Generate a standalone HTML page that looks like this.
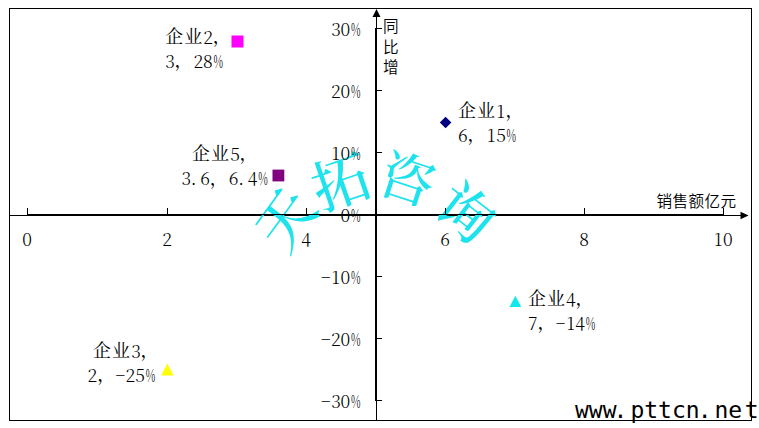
<!DOCTYPE html>
<html lang="zh-CN"><head><meta charset="utf-8"><title>销售额与同比增长散点图</title>
<style>html,body{margin:0;padding:0;background:#fff;width:759px;height:428px;overflow:hidden}svg{display:block}</style>
</head><body>
<svg width="759" height="428" viewBox="0 0 759 428"><rect x="10" y="215" width="733" height="1" fill="#000"/>
<rect x="376" y="15" width="1" height="405" fill="#000"/>
<g><text x="285" y="241.0" text-anchor="middle" font-family="'Noto Serif CJK SC', serif" font-size="58" font-weight="500" fill="#1FE3EC" transform="rotate(-54 285 219)">天</text><text x="340.5" y="203.2" text-anchor="middle" font-family="'Noto Serif CJK SC', serif" font-size="57" font-weight="500" fill="#1FE3EC" transform="rotate(-19 340.5 181.5)">拓</text><text x="407.5" y="199.4" text-anchor="middle" font-family="'Noto Serif CJK SC', serif" font-size="55" font-weight="500" fill="#1FE3EC" transform="rotate(18 407.5 178.5)">咨</text><text x="466" y="233.7" text-anchor="middle" font-family="'Noto Serif CJK SC', serif" font-size="57" font-weight="500" fill="#1FE3EC" transform="rotate(38 466 212)">询</text></g>
<rect x="9.5" y="8.5" width="742" height="412" fill="none" stroke="#000" stroke-width="1"/>
<rect x="27" y="214" width="697" height="1" fill="#000"/>
<path d="M748.6,215.5 L740.5,211.8 L740.5,219.2 Z" fill="#000"/>
<rect x="375" y="28" width="1" height="373" fill="#000"/>
<path d="M376.5,9 L372.5,17 L380.5,17 Z" fill="#000"/>
<rect x="27" y="208" width="1" height="6" fill="#000"/>
<rect x="167" y="208" width="1" height="6" fill="#000"/>
<rect x="306" y="208" width="1" height="6" fill="#000"/>
<rect x="445" y="208" width="1" height="6" fill="#000"/>
<rect x="584" y="208" width="1" height="6" fill="#000"/>
<rect x="723" y="208" width="1" height="6" fill="#000"/>
<rect x="376" y="28" width="6" height="1" fill="#000"/>
<rect x="376" y="90" width="6" height="1" fill="#000"/>
<rect x="376" y="152" width="6" height="1" fill="#000"/>
<rect x="376" y="214" width="6" height="1" fill="#000"/>
<rect x="376" y="276" width="6" height="1" fill="#000"/>
<rect x="376" y="338" width="6" height="1" fill="#000"/>
<rect x="376" y="400" width="6" height="1" fill="#000"/>
<text font-family="'Noto Serif CJK SC', serif" font-size="17.60" font-weight="300" fill="#000"><tspan x="331.23" y="35.80">3</tspan><tspan x="340.58" y="35.80">0</tspan><tspan x="350.93" y="35.80" textLength="9.55" lengthAdjust="spacingAndGlyphs">%</tspan></text>
<text font-family="'Noto Serif CJK SC', serif" font-size="17.60" font-weight="300" fill="#000"><tspan x="330.90" y="97.80">2</tspan><tspan x="340.58" y="97.80">0</tspan><tspan x="350.93" y="97.80" textLength="9.55" lengthAdjust="spacingAndGlyphs">%</tspan></text>
<text font-family="'Noto Serif CJK SC', serif" font-size="17.60" font-weight="300" fill="#000"><tspan x="331.50" y="159.80">1</tspan><tspan x="340.58" y="159.80">0</tspan><tspan x="350.93" y="159.80" textLength="9.55" lengthAdjust="spacingAndGlyphs">%</tspan></text>
<text font-family="'Noto Serif CJK SC', serif" font-size="17.60" font-weight="300" fill="#000"><tspan x="340.58" y="221.80">0</tspan><tspan x="350.93" y="221.80" textLength="9.55" lengthAdjust="spacingAndGlyphs">%</tspan></text>
<text font-family="'Noto Serif CJK SC', serif" font-size="17.60" font-weight="300" fill="#000"><tspan x="320.19" y="282.20" textLength="11.11" lengthAdjust="spacingAndGlyphs">-</tspan><tspan x="331.50" y="283.80">1</tspan><tspan x="340.58" y="283.80">0</tspan><tspan x="350.93" y="283.80" textLength="9.55" lengthAdjust="spacingAndGlyphs">%</tspan></text>
<text font-family="'Noto Serif CJK SC', serif" font-size="17.60" font-weight="300" fill="#000"><tspan x="320.19" y="344.20" textLength="11.11" lengthAdjust="spacingAndGlyphs">-</tspan><tspan x="330.90" y="345.80">2</tspan><tspan x="340.58" y="345.80">0</tspan><tspan x="350.93" y="345.80" textLength="9.55" lengthAdjust="spacingAndGlyphs">%</tspan></text>
<text font-family="'Noto Serif CJK SC', serif" font-size="17.60" font-weight="300" fill="#000"><tspan x="320.19" y="406.20" textLength="11.11" lengthAdjust="spacingAndGlyphs">-</tspan><tspan x="331.23" y="407.80">3</tspan><tspan x="340.58" y="407.80">0</tspan><tspan x="350.93" y="407.80" textLength="9.55" lengthAdjust="spacingAndGlyphs">%</tspan></text>
<text font-family="'Noto Serif CJK SC', serif" font-size="17.60" font-weight="300" fill="#000"><tspan x="22.33" y="245.50">0</tspan></text>
<text font-family="'Noto Serif CJK SC', serif" font-size="17.60" font-weight="300" fill="#000"><tspan x="162.15" y="245.50">2</tspan></text>
<text font-family="'Noto Serif CJK SC', serif" font-size="17.60" font-weight="300" fill="#000"><tspan x="301.22" y="245.50">4</tspan></text>
<text font-family="'Noto Serif CJK SC', serif" font-size="17.60" font-weight="300" fill="#000"><tspan x="440.24" y="245.50">6</tspan></text>
<text font-family="'Noto Serif CJK SC', serif" font-size="17.60" font-weight="300" fill="#000"><tspan x="579.29" y="245.50">8</tspan></text>
<text font-family="'Noto Serif CJK SC', serif" font-size="17.60" font-weight="300" fill="#000"><tspan x="714.00" y="245.50">1</tspan><tspan x="723.08" y="245.50">0</tspan></text>
<text font-family="'Noto Serif CJK SC', serif" font-size="17.60" font-weight="300" fill="#000"><tspan x="656.60" y="206.80" font-family="'Noto Sans CJK SC', sans-serif" font-size="15.6" font-weight="350">销</tspan><tspan x="672.60" y="206.80" font-family="'Noto Sans CJK SC', sans-serif" font-size="15.6" font-weight="350">售</tspan><tspan x="688.60" y="206.80" font-family="'Noto Sans CJK SC', sans-serif" font-size="15.6" font-weight="350">额</tspan><tspan x="704.60" y="206.80" font-family="'Noto Sans CJK SC', sans-serif" font-size="15.6" font-weight="350">亿</tspan><tspan x="720.60" y="206.80" font-family="'Noto Sans CJK SC', sans-serif" font-size="15.6" font-weight="350">元</tspan></text>
<text font-family="'Noto Serif CJK SC', serif" font-size="17.60" font-weight="300" fill="#000"><tspan x="383.00" y="32.20" font-family="'Noto Sans CJK SC', sans-serif" font-size="15.6" font-weight="350">同</tspan></text>
<text font-family="'Noto Serif CJK SC', serif" font-size="17.60" font-weight="300" fill="#000"><tspan x="383.00" y="52.50" font-family="'Noto Sans CJK SC', sans-serif" font-size="15.6" font-weight="350">比</tspan></text>
<text font-family="'Noto Serif CJK SC', serif" font-size="17.60" font-weight="300" fill="#000"><tspan x="383.00" y="72.80" font-family="'Noto Sans CJK SC', sans-serif" font-size="15.6" font-weight="350">增</tspan></text>
<path d="M445.6,116.7 L451.4,122.45 L445.6,128.2 L439.8,122.45 Z" fill="#000080"/>
<rect x="231.5" y="35.5" width="12" height="12" fill="#FF00FF"/>
<path d="M167.4,363.4 L173.6,375.5 L161.2,375.5 Z" fill="#FFFF00"/>
<path d="M515.4,295.8 L521.3,307 L509.5,307 Z" fill="#10E8EC"/>
<rect x="272.5" y="169.6" width="11.8" height="11.8" fill="#800080"/>
<text font-family="'Noto Serif CJK SC', serif" font-size="17.60" font-weight="300" fill="#000"><tspan x="457.90" y="117.00" font-family="'Noto Serif CJK SC', serif" font-size="18.0" font-weight="400">企</tspan><tspan x="476.90" y="117.00" font-family="'Noto Serif CJK SC', serif" font-size="18.0" font-weight="400">业</tspan><tspan x="496.50" y="117.60">1</tspan><tspan x="505.50" y="117.00" font-family="'Noto Serif CJK SC', serif" font-size="18.0" font-weight="400">，</tspan></text>
<text font-family="'Noto Serif CJK SC', serif" font-size="17.60" font-weight="300" fill="#000"><tspan x="457.99" y="141.60">6</tspan><tspan x="467.50" y="141.00" font-family="'Noto Serif CJK SC', serif" font-size="18.0" font-weight="400">，</tspan><tspan x="487.00" y="141.60">1</tspan><tspan x="496.17" y="141.60">5</tspan><tspan x="506.43" y="141.60" textLength="9.55" lengthAdjust="spacingAndGlyphs">%</tspan></text>
<text font-family="'Noto Serif CJK SC', serif" font-size="17.60" font-weight="300" fill="#000"><tspan x="165.20" y="43.40" font-family="'Noto Serif CJK SC', serif" font-size="18.0" font-weight="400">企</tspan><tspan x="184.20" y="43.40" font-family="'Noto Serif CJK SC', serif" font-size="18.0" font-weight="400">业</tspan><tspan x="203.20" y="44.00">2</tspan><tspan x="212.80" y="43.40" font-family="'Noto Serif CJK SC', serif" font-size="18.0" font-weight="400">，</tspan></text>
<text font-family="'Noto Serif CJK SC', serif" font-size="17.60" font-weight="300" fill="#000"><tspan x="165.23" y="67.70">3</tspan><tspan x="174.50" y="67.10" font-family="'Noto Serif CJK SC', serif" font-size="18.0" font-weight="400">，</tspan><tspan x="193.40" y="67.70">2</tspan><tspan x="203.04" y="67.70">8</tspan><tspan x="213.43" y="67.70" textLength="9.55" lengthAdjust="spacingAndGlyphs">%</tspan></text>
<text font-family="'Noto Serif CJK SC', serif" font-size="17.60" font-weight="300" fill="#000"><tspan x="92.90" y="357.30" font-family="'Noto Serif CJK SC', serif" font-size="18.0" font-weight="400">企</tspan><tspan x="111.90" y="357.30" font-family="'Noto Serif CJK SC', serif" font-size="18.0" font-weight="400">业</tspan><tspan x="131.23" y="357.90">3</tspan><tspan x="140.50" y="357.30" font-family="'Noto Serif CJK SC', serif" font-size="18.0" font-weight="400">，</tspan></text>
<text font-family="'Noto Serif CJK SC', serif" font-size="17.60" font-weight="300" fill="#000"><tspan x="87.60" y="382.00">2</tspan><tspan x="97.20" y="381.40" font-family="'Noto Serif CJK SC', serif" font-size="18.0" font-weight="400">，</tspan><tspan x="114.89" y="380.40" textLength="11.11" lengthAdjust="spacingAndGlyphs">-</tspan><tspan x="125.60" y="382.00">2</tspan><tspan x="135.37" y="382.00">5</tspan><tspan x="145.63" y="382.00" textLength="9.55" lengthAdjust="spacingAndGlyphs">%</tspan></text>
<text font-family="'Noto Serif CJK SC', serif" font-size="17.60" font-weight="300" fill="#000"><tspan x="527.90" y="305.20" font-family="'Noto Serif CJK SC', serif" font-size="18.0" font-weight="400">企</tspan><tspan x="546.90" y="305.20" font-family="'Noto Serif CJK SC', serif" font-size="18.0" font-weight="400">业</tspan><tspan x="565.97" y="305.80">4</tspan><tspan x="575.50" y="305.20" font-family="'Noto Serif CJK SC', serif" font-size="18.0" font-weight="400">，</tspan></text>
<text font-family="'Noto Serif CJK SC', serif" font-size="17.60" font-weight="300" fill="#000"><tspan x="528.08" y="329.80">7</tspan><tspan x="537.40" y="329.20" font-family="'Noto Serif CJK SC', serif" font-size="18.0" font-weight="400">，</tspan><tspan x="555.09" y="328.20" textLength="11.11" lengthAdjust="spacingAndGlyphs">-</tspan><tspan x="566.40" y="329.80">1</tspan><tspan x="575.37" y="329.80">4</tspan><tspan x="585.83" y="329.80" textLength="9.55" lengthAdjust="spacingAndGlyphs">%</tspan></text>
<text font-family="'Noto Serif CJK SC', serif" font-size="17.60" font-weight="300" fill="#000"><tspan x="191.90" y="160.20" font-family="'Noto Serif CJK SC', serif" font-size="18.0" font-weight="400">企</tspan><tspan x="210.90" y="160.20" font-family="'Noto Serif CJK SC', serif" font-size="18.0" font-weight="400">业</tspan><tspan x="230.17" y="160.80">5</tspan><tspan x="239.50" y="160.20" font-family="'Noto Serif CJK SC', serif" font-size="18.0" font-weight="400">，</tspan></text>
<text font-family="'Noto Serif CJK SC', serif" font-size="17.60" font-weight="300" fill="#000"><tspan x="181.43" y="185.20">3</tspan><tspan x="190.65" y="185.20">.</tspan><tspan x="200.19" y="185.20">6</tspan><tspan x="209.70" y="184.60" font-family="'Noto Serif CJK SC', serif" font-size="18.0" font-weight="400">，</tspan><tspan x="228.69" y="185.20">6</tspan><tspan x="238.15" y="185.20">.</tspan><tspan x="247.67" y="185.20">4</tspan><tspan x="258.13" y="185.20" textLength="9.55" lengthAdjust="spacingAndGlyphs">%</tspan></text>
<text x="575" y="418.3" font-family="'DejaVu Sans Mono', monospace" font-size="23" fill="#000">www<tspan dx="-3">.</tspan><tspan dx="3">pttcn</tspan><tspan dx="-2">.</tspan><tspan dx="3">ne</tspan><tspan dx="2.5">t</tspan></text></svg>
</body></html>
